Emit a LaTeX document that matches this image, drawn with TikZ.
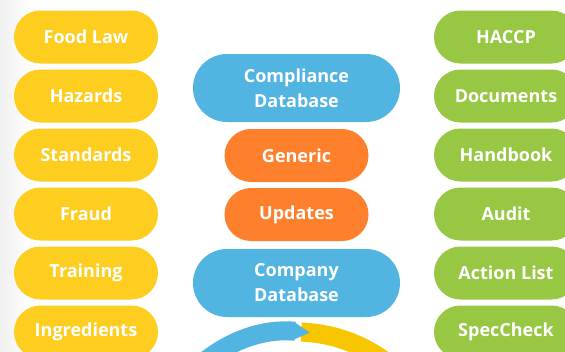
\documentclass[tikz,border=0pt]{standalone}
\usepackage{fontspec}
\setmainfont{Open Sans}
\usetikzlibrary{positioning,arrows.meta}
\definecolor{pillyellow}{HTML}{FDCD1F}
\definecolor{pillgreen}{HTML}{98C744}
\definecolor{pillblue}{HTML}{52B4E1}
\definecolor{pillorange}{HTML}{FE7F2C}
\definecolor{arcyellow}{HTML}{F7C600}
\tikzset{
  pill/.style={fill=#1, text=white, font=\bfseries\fontsize{18}{25}\selectfont,
    minimum width=144pt, minimum height=53pt, rounded corners=26.5pt,
    inner sep=0pt, align=center},
  bigpill/.style={pill=pillblue, minimum width=207pt, minimum height=68pt, rounded corners=34pt}
}
\begin{document}
\begin{tikzpicture}[x=1pt,y=1pt]
            \clip (0,0) rectangle (565,-351);
            \fill[white] (0,0) rectangle (565,-351);
            \shade[left color=black!6, right color=white] (0,0) rectangle (30,-351);
            \foreach \t [count=\i] in {Food Law,Hazards,Standards,Fraud,Training,Ingredients}
                \node[pill=pillyellow] (l\i) at (86,{-37-59*(\i-1)}) {\t};
            \foreach \t [count=\i] in {HACCP,Documents,Handbook,Audit,Action List,SpecCheck}
                \node[pill=pillgreen] (r\i) at (506,{-37-59*(\i-1)}) {\t};
            \node[bigpill] (comp) at (296.5,-88) {Compliance\\Database};
            \node[pill=pillorange] (gen) at (296.5,-155.5) {Generic};
            \node[pill=pillorange] (upd) at (296.5,-214.5) {Updates};
            \node[bigpill] (cdb) at (296.5,-283) {Company\\Database};
            % cycle below
            \coordinate (c) at (296,-481.5);
            \draw[arcyellow, line width=19pt] ([shift={(88:149.5)}]c) arc (88:10:149.5);
            \draw[pillblue, line width=19pt, -{Triangle[length=16pt,width=16pt]}]
                ([shift={(170:149.5)}]c) arc (170:84.6:149.5);
        \end{tikzpicture}
\end{document}
